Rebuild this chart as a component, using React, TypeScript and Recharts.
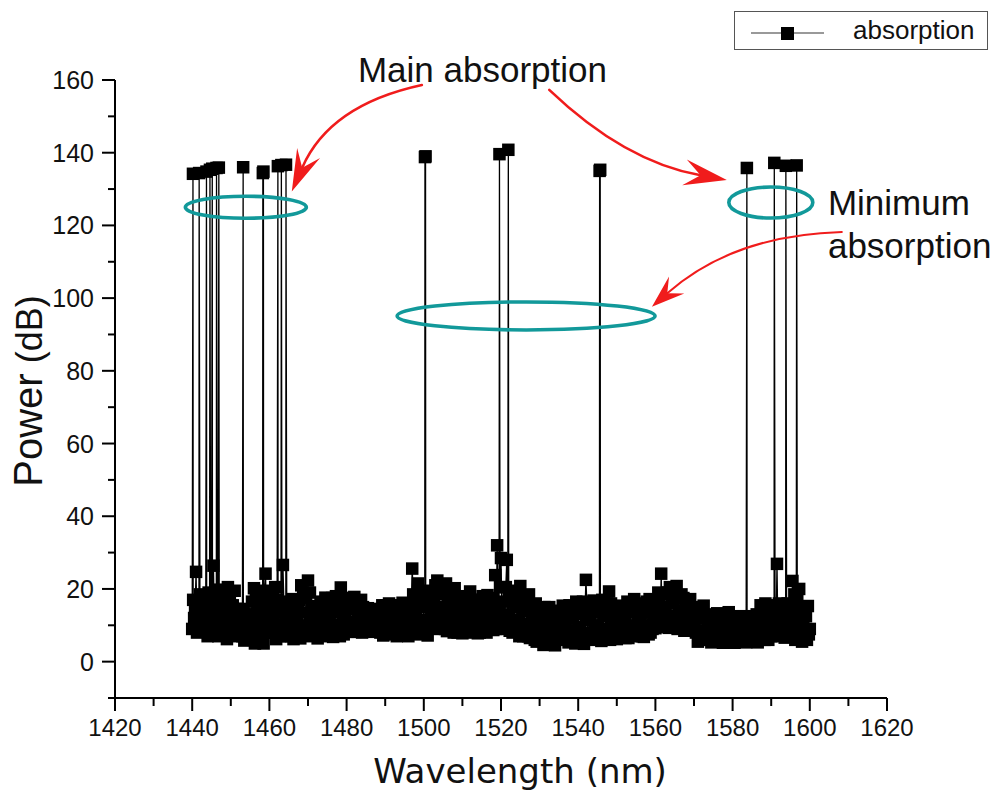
import React from 'react';
import { LineChart, Line, XAxis, YAxis, Legend, ReferenceDot, ReferenceLine, Label } from 'recharts';

// ---- data ----
const START_NM = 1440;
const STEP_NM = 0.5;
const HALF_STEP_NM = 0.25;

// Background power (dB) on the whole-step grid: 1440, 1440.5 ... 1600 nm (one row = 5 nm)
const basePower: number[] = [
  9.0, 12.0, 24.7, 15.0, 18.5, 15.5, 12.5, 9.5, 7.0, 10.0, // 1440
  13.0, 26.4, 16.5, 19.8, 17.0, 13.8, 10.5, 7.5, 6.2, 9.0, // 1445
  12.0, 15.5, 19.5, 14.5, 12.0, 9.5, 7.0, 5.8, 8.5, 11.0, // 1450
  13.0, 16.5, 20.2, 17.0, 13.5, 10.0, 7.0, 5.0, 24.2, 8.0, // 1455
  11.0, 14.0, 17.5, 20.5, 17.0, 13.5, 10.0, 26.6, 7.0, 9.5, // 1460
  12.5, 15.5, 17.2, 14.0, 11.0, 8.0, 6.4, 10.0, 13.5, 17.5, // 1465
  22.3, 19.0, 15.3, 12.0, 9.0, 6.4, 9.5, 12.5, 15.5, 17.6, // 1470
  14.5, 11.0, 8.0, 6.8, 10.0, 13.5, 17.0, 20.4, 17.0, 13.5, // 1475
  10.5, 8.2, 11.0, 14.5, 17.8, 15.0, 12.0, 9.0, 8.0, 11.0, // 1480
  14.0, 14.7, 12.0, 9.5, 8.2, 11.0, 14.2, 12.0, 9.5, 7.2, // 1485
  10.0, 13.0, 16.0, 13.5, 10.5, 7.5, 7.0, 10.0, 13.0, 16.2, // 1490
  13.0, 10.0, 7.0, 10.0, 25.6, 13.0, 16.5, 21.5, 18.5, 15.0, // 1495
  11.5, 8.0, 7.2, 10.5, 14.0, 17.5, 21.0, 22.3, 18.5, 15.0, // 1500
  12.0, 9.0, 8.4, 11.5, 14.5, 17.5, 20.2, 17.0, 13.5, 10.5, // 1505
  7.8, 10.5, 13.5, 16.5, 19.3, 16.5, 13.5, 10.5, 7.8, 8.0, // 1510
  10.5, 13.5, 16.5, 18.3, 14.5, 11.0, 8.7, 23.8, 32.0, 16.0, // 1515
  28.5, 9.0, 13.0, 28.0, 18.0, 11.0, 8.0, 11.5, 15.0, 18.5, // 1520
  20.8, 17.5, 14.0, 10.5, 7.0, 6.5, 10.0, 13.5, 16.0, 12.5, // 1525
  9.0, 6.0, 4.6, 8.0, 11.5, 15.0, 10.8, 7.5, 4.5, 7.5, // 1530
  10.5, 13.5, 15.4, 12.0, 8.5, 5.3, 8.5, 12.0, 15.0, 16.5, // 1535
  13.0, 9.5, 6.0, 4.9, 22.5, 8.0, 11.5, 14.5, 16.8, 13.5, // 1540
  10.0, 6.5, 5.7, 9.0, 12.5, 16.0, 19.3, 16.0, 12.5, 9.0, // 1545
  6.2, 9.5, 12.5, 15.4, 12.5, 9.5, 6.5, 10.0, 13.5, 17.2, // 1550
  14.0, 13.8, 10.5, 7.0, 6.8, 10.0, 13.5, 17.2, 14.0, 10.5, // 1555
  9.2, 12.5, 15.5, 24.2, 18.5, 15.0, 12.0, 9.3, 12.5, 16.0, // 1560
  19.0, 20.8, 17.5, 14.0, 11.0, 8.5, 11.0, 14.0, 17.2, 14.0, // 1565
  11.0, 8.0, 5.5, 8.5, 12.0, 15.4, 12.5, 9.5, 6.5, 5.3, // 1570
  8.0, 11.0, 13.3, 10.5, 7.5, 5.2, 8.0, 11.0, 13.6, 10.5, // 1575
  7.5, 5.2, 8.0, 10.5, 12.5, 10.0, 7.5, 5.3, 8.5, 11.0, // 1580
  12.5, 9.0, 6.0, 5.3, 8.5, 11.5, 14.5, 16.0, 13.0, 10.0, // 1585
  7.0, 10.0, 13.0, 26.9, 16.0, 12.5, 9.0, 6.6, 9.5, 12.5, // 1590
  15.5, 22.2, 18.5, 15.0, 11.5, 8.0, 5.5, 9.0, 12.5, 15.3, // 1595
  9.0, // 1600
];

// Background power (dB) on the in-between grid: 1440.25, 1440.75 ... 1599.75 nm
const midPower: number[] = [
  17.0, 14.5, 8.0, 11.0, 8.5, 11.5, 14.5, 17.5, 19.0, 16.0, // 1440
  13.5, 10.0, 9.0, 7.0, 9.5, 13.0, 16.5, 19.5, 20.5, 17.5, // 1445
  14.5, 11.0, 8.5, 7.0, 9.0, 12.5, 14.5, 11.5, 13.0, 6.5, // 1450
  8.5, 6.0, 5.0, 8.0, 11.0, 15.0, 18.0, 19.5, 12.0, 15.5, // 1455
  18.5, 12.5, 8.0, 6.2, 9.0, 7.0, 14.5, 16.5, 12.0, 16.0, // 1460
  9.0, 7.0, 6.2, 10.0, 14.5, 17.0, 21.0, 18.5, 8.0, 9.5, // 1465
  7.0, 10.5, 7.5, 14.5, 15.0, 11.5, 16.5, 7.5, 9.0, 7.0, // 1470
  9.5, 15.0, 17.5, 14.0, 18.0, 8.5, 7.0, 10.0, 7.5, 17.5, // 1475
  16.0, 17.5, 14.5, 9.5, 8.2, 10.5, 16.5, 17.0, 15.0, 13.0, // 1480
  8.5, 10.0, 9.0, 13.5, 14.5, 12.5, 9.0, 8.0, 15.5, 14.0, // 1485
  15.5, 8.0, 9.5, 8.0, 14.0, 15.5, 13.0, 15.5, 8.5, 9.5, // 1490
  8.0, 15.5, 12.5, 15.0, 18.5, 9.5, 7.5, 10.5, 8.0, 19.0, // 1495
  18.5, 15.5, 19.5, 16.0, 10.5, 9.0, 12.5, 9.5, 11.5, 10.0, // 1500
  19.0, 21.5, 16.0, 18.5, 9.5, 8.0, 10.0, 8.0, 17.5, 15.0, // 1505
  16.5, 18.0, 9.0, 8.0, 11.5, 9.5, 17.0, 15.0, 12.0, 17.0, // 1510
  18.0, 9.0, 8.0, 10.0, 17.5, 15.0, 13.0, 9.0, 11.5, 20.5, // 1515
  12.0, 16.5, 20.5, 9.5, 8.5, 17.0, 19.5, 16.0, 9.0, 7.0, // 1520
  9.5, 7.0, 8.0, 16.0, 18.5, 15.0, 13.0, 6.0, 5.5, 8.0, // 1525
  14.5, 12.0, 15.0, 13.0, 5.5, 7.0, 5.0, 10.5, 9.5, 14.0, // 1530
  6.0, 8.0, 6.5, 9.0, 14.5, 15.5, 13.5, 6.0, 5.0, 8.0, // 1535
  5.5, 14.0, 16.5, 13.5, 16.0, 14.0, 7.0, 6.0, 9.0, 6.5, // 1540
  15.5, 14.0, 17.0, 15.5, 7.5, 9.0, 6.0, 8.5, 6.5, 14.5, // 1545
  13.0, 15.0, 7.5, 8.0, 6.5, 16.5, 14.5, 16.0, 7.0, 9.5, // 1550
  7.5, 9.0, 13.5, 14.0, 16.0, 16.5, 7.5, 8.0, 9.0, 16.0, // 1555
  17.0, 19.0, 10.0, 12.0, 10.0, 9.5, 19.0, 20.5, 18.0, 10.0, // 1560
  12.0, 9.0, 10.0, 18.5, 17.5, 16.0, 16.5, 8.5, 9.0, 8.5, // 1565
  14.5, 15.0, 13.5, 12.0, 6.0, 7.5, 6.0, 12.5, 13.0, 11.0, // 1570
  12.5, 7.0, 6.0, 6.5, 12.0, 13.0, 12.5, 6.0, 6.5, 5.5, // 1575
  12.0, 11.0, 12.0, 6.5, 6.0, 5.5, 11.5, 12.0, 6.0, 5.5, // 1580
  6.0, 12.0, 13.0, 12.5, 15.5, 7.0, 6.0, 8.5, 6.0, 15.0, // 1585
  14.5, 15.5, 8.0, 7.0, 8.0, 7.5, 14.5, 15.5, 16.0, 7.0, // 1590
  8.0, 9.0, 6.0, 17.5, 20.0, 14.5, 12.0, 14.5, 6.0, 7.5, // 1595
];

// Absorption peaks (wavelength in nm, power in dB)
const peakWavelength: number[] = [
  1440.2, 1441.8, 1443.7, 1444.6, 1445.2, 1446.3, 1446.9, 1453.2, 1458.3, 1458.45, 1462.2, 1463.1, 1464.3,
  1500.3, 1500.45, 1519.6, 1521.9, 1545.55, 1545.7,
  1583.7, 1590.8, 1593.8, 1596.6,
];
const peakPower: number[] = [
  134.2, 134.4, 134.8, 135.3, 135.6, 135.8, 135.9, 136.0, 134.4, 134.8, 136.3, 136.6, 136.7,
  138.8, 139.0, 139.6, 140.8, 135.0, 135.3,
  135.8, 137.2, 136.4, 136.5,
];

const xTicks = [1420, 1430, 1440, 1450, 1460, 1470, 1480, 1490, 1500, 1510, 1520, 1530, 1540, 1550, 1560, 1570, 1580, 1590, 1600, 1610, 1620];
const xLabelTicks = [1420, 1440, 1460, 1480, 1500, 1520, 1540, 1560, 1580, 1600, 1620];
const yTicks = [-10, 0, 10, 20, 30, 40, 50, 60, 70, 80, 90, 100, 110, 120, 130, 140, 150, 160];
const yLabelTicks = [0, 20, 40, 60, 80, 100, 120, 140, 160];

const seriesName = 'absorption';

// annotations (data coordinates)
const ellipses = [
  { x: 1453.9, y: 125.0, rx: 60.5, ry: 11 },
  { x: 1589.9, y: 126.3, rx: 42, ry: 15.5 },
  { x: 1526.5, y: 95.1, rx: 129, ry: 14 },
];
const arrows = [
  { from: { x: 1499.5, y: 158.6 }, to: { x: 1465.8, y: 129.3 }, bulge: 43, headLen: 42, headHalf: 12.5, width: 2.6 },
  { from: { x: 1532.5, y: 157.3 }, to: { x: 1578.5, y: 132.5 }, bulge: 30, headLen: 43, headHalf: 13, width: 2.6 },
  { from: { x: 1608.3, y: 118.2 }, to: { x: 1559.1, y: 97.6 }, bulge: 37, headLen: 33, headHalf: 11.5, width: 2 },
];
const notes = [
  { x: 1515.2, y: 159.5, text: 'Main absorption', anchor: 'middle' },
  { x: 1604.7, y: 122.9, text: 'Minimum', anchor: 'start' },
  { x: 1604.7, y: 111.0, text: 'absorption', anchor: 'start' },
];

const chartData = [
  ...basePower.map((p, i) => ({ wavelength: START_NM + i * STEP_NM, power: p })),
  ...midPower.map((p, i) => ({ wavelength: START_NM + HALF_STEP_NM + i * STEP_NM, power: p })),
  ...peakWavelength.map((w, i) => ({ wavelength: w, power: peakPower[i] })),
].sort((a, b) => a.wavelength - b.wavelength);

const ARIAL = "'Liberation Sans', Arial, sans-serif";
const RED = '#f01c1c';
const TEAL = '#12999a';
const MARK = 12.5;

const renderDot = (props: any) => {
  const { cx, cy, index } = props;
  if (cx == null || cy == null) return <g key={`d${index}`} />;
  return <rect key={`d${index}`} x={cx - MARK / 2} y={cy - MARK / 2} width={MARK} height={MARK} fill="#000" />;
};

const YTick = (props: any) => {
  const { x, y, payload } = props;
  const v = payload.value;
  const major = yLabelTicks.includes(v);
  return (
    <g>
      <line x1={x - (major ? 13 : 7)} x2={x} y1={y} y2={y} stroke="#000" strokeWidth={2} />
      {major && (
        <text x={x - 21} y={y + 9} textAnchor="end" fontFamily={ARIAL} fontSize={25} fill="#111">
          {v}
        </text>
      )}
    </g>
  );
};

const XTick = (props: any) => {
  const { x, y, payload } = props;
  const v = payload.value;
  const major = xLabelTicks.includes(v);
  return (
    <g>
      <line x1={x} x2={x} y1={y} y2={y + (major ? 13 : 8)} stroke="#000" strokeWidth={2} />
      {major && (
        <text x={x} y={y + 38} textAnchor="middle" fontFamily={ARIAL} fontSize={24} fill="#111">
          {v}
        </text>
      )}
    </g>
  );
};

const makeArrow = (bulge: number, headLen: number, headHalf: number, width: number) => (props: any) => {
  const { x1, y1, x2, y2 } = props;
  const dx = x2 - x1;
  const dy = y2 - y1;
  const len = Math.hypot(dx, dy) || 1;
  const ux = dx / len;
  const uy = dy / len;
  const nx = -uy;
  const ny = ux;
  const qx = (x1 + x2) / 2 + nx * bulge;
  const qy = (y1 + y2) / 2 + ny * bulge;
  let tx = x2 - qx;
  let ty = y2 - qy;
  const tl = Math.hypot(tx, ty) || 1;
  tx /= tl;
  ty /= tl;
  const px = -ty;
  const py = tx;
  const bx = x2 - tx * headLen;
  const by = y2 - ty * headLen;
  const kx = x2 - tx * headLen * 0.62;
  const ky = y2 - ty * headLen * 0.62;
  const head = `M${x2},${y2} L${bx + px * headHalf},${by + py * headHalf} L${kx},${ky} L${bx - px * headHalf},${by - py * headHalf} Z`;
  return (
    <g>
      <path d={`M${x1},${y1} Q${qx},${qy} ${kx},${ky}`} fill="none" stroke={RED} strokeWidth={width} strokeLinecap="round" />
      <path d={head} fill={RED} />
    </g>
  );
};

const makeEllipse = (rx: number, ry: number) => (props: any) => (
  <ellipse cx={props.cx} cy={props.cy} rx={rx} ry={ry} fill="none" stroke={TEAL} strokeWidth={3.6} />
);

const makeNote = (text: string, anchor: string) => (props: any) => (
  <text x={props.cx} y={props.cy} textAnchor={anchor as any} fontFamily={ARIAL} fontSize={35} fill="#111">
    {text}
  </text>
);

const renderLegend = () => (
  <div
    style={{
      width: 254,
      height: 39,
      border: '1px solid #555',
      boxSizing: 'border-box',
      position: 'relative',
      background: '#fff',
    }}
  >
    <svg width={252} height={37} style={{ position: 'absolute', left: 0, top: 0 }}>
      <line x1={16} x2={89} y1={21} y2={21} stroke="#777" strokeWidth={1.5} />
      <rect x={46} y={15} width={13} height={13} fill="#000" />
      <text x={118} y={27} fontFamily={ARIAL} fontSize={26} fill="#111">
        {seriesName}
      </text>
    </svg>
  </div>
);

const renderYLabel = (props: any) => {
  const vb = props.viewBox || { x: 0, y: 80, width: 115, height: 618 };
  const cx = vb.x + 42;
  const cy = vb.y + vb.height / 2 + 2;
  return (
    <text
      x={cx}
      y={cy}
      transform={`rotate(-90, ${cx}, ${cy})`}
      textAnchor="middle"
      fontFamily={ARIAL}
      fill="#111"
    >
      <tspan fontSize={40}>Power</tspan>
      <tspan fontSize={36}> (dB)</tspan>
    </text>
  );
};

const renderXLabel = (props: any) => {
  const vb = props.viewBox || { x: 115, y: 698, width: 772, height: 95 };
  return (
    <text
      x={vb.x + vb.width / 2 + 19}
      y={vb.y + 85}
      textAnchor="middle"
      fontFamily="'DejaVu Sans', Verdana, sans-serif"
      fontSize={34}
      fill="#111"
    >
      Wavelength (nm)
    </text>
  );
};

export default function App() {
  return (
    <div style={{ position: 'absolute', left: 0, top: 0, width: 999, height: 793, overflow: 'hidden', background: '#fff' }}>
      <LineChart
        width={999}
        height={793}
        data={chartData}
        margin={{ top: 80, right: 112, bottom: 0, left: 0 }}
      >
        <XAxis
          dataKey="wavelength"
          type="number"
          domain={[1420, 1620]}
          ticks={xTicks}
          interval={0}
          height={95}
          tickSize={0}
          tickMargin={0}
          tickLine={false}
          axisLine={{ stroke: '#000', strokeWidth: 2 }}
          tick={<XTick />}
          label={<Label content={renderXLabel} />}
        />
        <YAxis
          type="number"
          domain={[-10, 160]}
          ticks={yTicks}
          interval={0}
          width={115}
          tickSize={0}
          tickMargin={0}
          tickLine={false}
          axisLine={{ stroke: '#000', strokeWidth: 2 }}
          tick={<YTick />}
          label={<Label content={renderYLabel} />}
        />
        <Legend
          layout="horizontal"
          verticalAlign="middle"
          align="center"
          wrapperStyle={{ position: 'absolute', top: 11, left: 734, width: 255, height: 40 }}
          content={renderLegend}
        />
        <Line
          type="linear"
          dataKey="power"
          name={seriesName}
          stroke="#000"
          strokeWidth={1.3}
          dot={renderDot}
          activeDot={false}
          isAnimationActive={false}
        />
        {ellipses.map((e, i) => (
          <ReferenceDot key={`e${i}`} x={e.x} y={e.y} r={1} ifOverflow="visible" shape={makeEllipse(e.rx, e.ry)} />
        ))}
        {arrows.map((a, i) => (
          <ReferenceLine
            key={`a${i}`}
            segment={[a.from, a.to]}
            ifOverflow="visible"
            shape={makeArrow(a.bulge, a.headLen, a.headHalf, a.width)}
          />
        ))}
        {notes.map((n, i) => (
          <ReferenceDot key={`n${i}`} x={n.x} y={n.y} r={1} ifOverflow="visible" shape={makeNote(n.text, n.anchor)} />
        ))}
      </LineChart>
    </div>
  );
}
